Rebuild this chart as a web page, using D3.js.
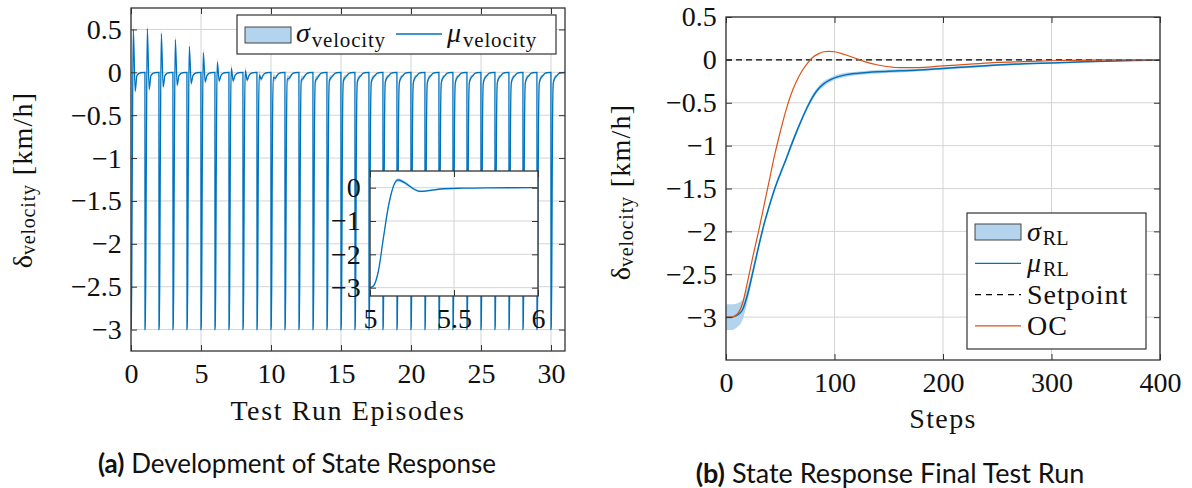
<!DOCTYPE html>
<html>
<head>
<meta charset="utf-8">
<script src="https://cdn.jsdelivr.net/npm/d3@7"></script>
<style>
  body { margin: 0; background: #fff; }
</style>
</head>
<body>
<svg id="fig" width="1192" height="488"></svg>
<script>
// (a) development over the test run episodes
const episodes = [0, 1, 2, 3, 4, 5, 6, 7, 8, 9, 10, 11, 12, 13, 14, 15,
                  16, 17, 18, 19, 20, 21, 22, 23, 24, 25, 26, 27, 28, 29, 30];
// overshoot peak and following dip for each episode
const episodePeak = [0.50, 0.51, 0.45, 0.38, 0.30, 0.23, 0.12, 0.05, 0.02, -0.03,
                     -0.06, -0.08, -0.09, -0.10, -0.10, -0.10, -0.11, -0.11, -0.11, -0.12,
                     -0.12, -0.12, -0.12, -0.12, -0.12, -0.12, -0.12, -0.12, -0.12, -0.12, -0.12];
const episodeDip  = [-0.22, -0.20, -0.17, -0.15, -0.13, -0.11, -0.10, -0.10, -0.09, -0.08,
                     -0.07, -0.07, -0.07, -0.07, -0.06, -0.06, -0.06, -0.06, -0.06, -0.06,
                     -0.06, -0.06, -0.06, -0.06, -0.06, -0.06, -0.06, -0.06, -0.06, -0.06, -0.06];
// shape inside one episode
const riseOffsets   = [0, 0.02, 0.05, 0.08, 0.11];
const riseValues    = [-3, -2.95, -2.5, -1.5, -0.55];
const riseStd       = [0, 0.01, 0.05, 0.07, 0.06];
const peakOffset = 0.165, peakStd = 0.05;
const dipOffset  = 0.30,  dipStd  = 0.03;
const settleOffsets = [0.42, 0.55, 0.7, 0.995];
const settleValues  = [-0.04, -0.015, -0.005, 0];
const settleStd     = [0.015, 0.008, 0.004, 0];

// (b) final test run
const steps = [0, 5, 10, 15, 20, 25, 30, 35, 40, 45, 50, 55, 60, 65, 70, 75, 80, 85, 90, 95,
               100, 110, 120, 130, 140, 150, 160, 175, 200, 225, 250, 275, 300, 325, 350, 375, 400];
const rlMean = [-3.00, -3.00, -2.98, -2.92, -2.73, -2.46, -2.18, -1.92, -1.70, -1.50, -1.33, -1.17, -1.00, -0.84, -0.69, -0.55, -0.43, -0.34, -0.28, -0.24,
                -0.21, -0.175, -0.158, -0.147, -0.139, -0.133, -0.128, -0.12, -0.10, -0.08, -0.06, -0.045, -0.035, -0.025, -0.015, -0.008, -0.005];
const rlStd  = [0.15, 0.15, 0.14, 0.12, 0.08, 0.05, 0.04, 0.03, 0.03, 0.03, 0.03, 0.03, 0.03, 0.03, 0.03, 0.03, 0.03, 0.03, 0.03, 0.025,
                0.025, 0.025, 0.02, 0.02, 0.02, 0.02, 0.02, 0.015, 0.015, 0.015, 0.012, 0.01, 0.008, 0.008, 0.006, 0.005, 0.005];
const ocValues = [-3.00, -3.00, -2.97, -2.85, -2.58, -2.28, -2.00, -1.70, -1.40, -1.10, -0.84, -0.60, -0.40, -0.25, -0.13, -0.04, 0.03, 0.07, 0.095, 0.10,
                  0.095, 0.06, 0.015, -0.03, -0.06, -0.08, -0.09, -0.09, -0.07, -0.05, -0.03, -0.02, -0.01, -0.005, 0, 0, 0];
const setpoint = 0;

const ticksAx = [0, 5, 10, 15, 20, 25, 30];
const ticksAy = [0.5, 0, -0.5, -1, -1.5, -2, -2.5, -3];
const ticksInsetX = [5, 5.5, 6];
const ticksInsetY = [0, -1, -2, -3];
const ticksBx = [0, 100, 200, 300, 400];
const ticksBy = [0.5, 0, -0.5, -1, -1.5, -2, -2.5, -3];

const BLUE = '#0072BD', ORANGE = '#D95319', BAND = '#b3d4ec', GRID = '#d4d4d4', AXIS = '#333';
const SERIF = 'Liberation Serif';
const SANS = 'Lato';
const fmt = d3.format('~g');

const svg = d3.select('#fig');

// serif text helper
function addText(parent, x, y, size) {
  return parent.append('text').attr('x', x).attr('y', y)
    .attr('font-family', SERIF).attr('font-size', size).attr('fill', '#111');
}

// build the episode series
const seriesA = [];
episodes.forEach((k, i) => {
  riseOffsets.forEach((o, j) => seriesA.push({ x: k + o, y: riseValues[j], s: riseStd[j] }));
  seriesA.push({ x: k + peakOffset, y: episodePeak[i], s: peakStd });
  seriesA.push({ x: k + dipOffset, y: episodeDip[i], s: dipStd });
  settleOffsets.forEach((o, j) => seriesA.push({ x: k + o, y: settleValues[j], s: settleStd[j] }));
});
const seriesB = steps.map((s, i) => ({ x: s, y: rlMean[i], s: rlStd[i], oc: ocValues[i], sp: setpoint }));

// grid lines under the data
function grid(g, x, y, xt, yt) {
  const [x0, x1] = x.range(), [y0, y1] = y.range();
  g.append('g').selectAll('line').data(xt).join('line')
    .attr('x1', d => x(d)).attr('x2', d => x(d)).attr('y1', y0).attr('y2', y1)
    .attr('stroke', GRID).attr('stroke-width', 1);
  g.append('g').selectAll('line').data(yt).join('line')
    .attr('x1', x0).attr('x2', x1).attr('y1', d => y(d)).attr('y2', d => y(d))
    .attr('stroke', GRID).attr('stroke-width', 1);
}

// ticks on all four sides + box
function frame(g, x, y, xt, yt, size) {
  const [x0, x1] = x.range(), [y0, y1] = y.range();
  const style = sel => {
    sel.select('.domain').remove();
    sel.selectAll('.tick line').attr('stroke', AXIS);
    sel.selectAll('.tick text').attr('fill', '#111')
      .attr('font-family', SERIF).attr('font-size', size);
  };
  g.append('g').attr('transform', `translate(0,${y0})`)
    .call(d3.axisBottom(x).tickValues(xt).tickSize(-6).tickPadding(size * 0.42).tickFormat(fmt)).call(style);
  g.append('g').attr('transform', `translate(0,${y1})`)
    .call(d3.axisTop(x).tickValues(xt).tickSize(-6).tickFormat('')).call(style);
  g.append('g').attr('transform', `translate(${x0},0)`)
    .call(d3.axisLeft(y).tickValues(yt).tickSize(-6).tickPadding(size * 0.33).tickFormat(fmt)).call(style);
  g.append('g').attr('transform', `translate(${x1},0)`)
    .call(d3.axisRight(y).tickValues(yt).tickSize(-6).tickFormat('')).call(style);
  g.append('rect').attr('x', x0).attr('y', y1).attr('width', x1 - x0).attr('height', y0 - y1)
    .attr('fill', 'none').attr('stroke', AXIS).attr('stroke-width', 1.3);
}

function clip(id, x, y) {
  const [x0, x1] = x.range(), [y0, y1] = y.range();
  svg.append('clipPath').attr('id', id).append('rect')
    .attr('x', x0).attr('y', y1).attr('width', x1 - x0).attr('height', y0 - y1);
  return `url(#${id})`;
}

function yLabel(cx, cy) {
  const t = addText(svg, 0, 0, 28).attr('transform', `translate(${cx},${cy}) rotate(-90)`)
    .attr('text-anchor', 'middle').attr('dominant-baseline', 'central');
  t.append('tspan').text('δ');
  t.append('tspan').attr('dy', 6).attr('font-size', 20).attr('letter-spacing', 0.8).text('velocity');
  t.append('tspan').attr('dy', -6).attr('dx', 9).attr('letter-spacing', 1.2).text('[km/h]');
}

// ---------- (a) ----------
const xA = d3.scaleLinear([0, 31], [131, 565]);
const yA = d3.scaleLinear([-3.25, 0.75], [351, 8]);
const gA = svg.append('g');
grid(gA, xA, yA, ticksAx, ticksAy);
const clipA = clip('clipA', xA, yA);

const bandA = d3.area().curve(d3.curveMonotoneX).x(d => xA(d.x)).y0(d => yA(d.y - d.s)).y1(d => yA(d.y + d.s));
const lineA = d3.line().curve(d3.curveMonotoneX).x(d => xA(d.x)).y(d => yA(d.y));
gA.append('path').datum(seriesA).attr('clip-path', clipA).attr('d', bandA).attr('fill', BAND);
gA.append('path').datum(seriesA).attr('clip-path', clipA).attr('d', lineA)
  .attr('fill', 'none').attr('stroke', BLUE).attr('stroke-width', 1.3);
frame(gA, xA, yA, ticksAx, ticksAy, 28);

// inset on episode 5
const xI = d3.scaleLinear([5, 6], [370, 538]);
const yI = d3.scaleLinear([-3.25, 0.5], [296, 171]);
const gI = svg.append('g');
gI.append('rect').attr('x', 370).attr('y', 171).attr('width', 168).attr('height', 125).attr('fill', '#fff');
grid(gI, xI, yI, ticksInsetX, ticksInsetY);
const insetData = seriesA.filter(d => d.x >= 5 && d.x < 6);
const clipI = clip('clipI', xI, yI);
gI.append('path').datum(insetData).attr('clip-path', clipI)
  .attr('d', d3.area().curve(d3.curveMonotoneX).x(d => xI(d.x)).y0(d => yI(d.y - d.s)).y1(d => yI(d.y + d.s)))
  .attr('fill', BAND);
gI.append('path').datum(insetData).attr('clip-path', clipI)
  .attr('d', d3.line().curve(d3.curveMonotoneX).x(d => xI(d.x)).y(d => yI(d.y)))
  .attr('fill', 'none').attr('stroke', BLUE).attr('stroke-width', 1.3);
frame(gI, xI, yI, ticksInsetX, ticksInsetY, 28);

// legend (a)
const legA = svg.append('g');
legA.append('rect').attr('x', 237).attr('y', 15).attr('width', 319).attr('height', 39)
  .attr('fill', '#fff').attr('stroke', AXIS).attr('stroke-width', 1.2);
legA.append('rect').attr('x', 245).attr('y', 27).attr('width', 46).attr('height', 16)
  .attr('fill', BAND).attr('stroke', '#444').attr('stroke-width', 1);
const tA1 = addText(legA, 296, 42, 28);
tA1.append('tspan').attr('font-style', 'italic').text('σ');
tA1.append('tspan').attr('dy', 5).attr('dx', 2).attr('font-size', 21).attr('letter-spacing', 0.8).text('velocity');
legA.append('line').attr('x1', 396).attr('x2', 442).attr('y1', 34).attr('y2', 34)
  .attr('stroke', BLUE).attr('stroke-width', 1.3);
const tA2 = addText(legA, 447, 42, 28);
tA2.append('tspan').attr('font-style', 'italic').text('μ');
tA2.append('tspan').attr('dy', 5).attr('dx', 2).attr('font-size', 21).attr('letter-spacing', 0.8).text('velocity');

addText(svg, 348, 420, 28).attr('text-anchor', 'middle').attr('letter-spacing', 1.6).text('Test Run Episodes');
yLabel(22, 180);

const capA = svg.append('text').attr('x', 297).attr('y', 473).attr('text-anchor', 'middle')
  .attr('font-family', SANS).attr('font-size', 26).attr('fill', '#111');
capA.append('tspan').attr('font-weight', 'bold').text('(a)');
capA.append('tspan').text(' Development of State Response');

// ---------- (b) ----------
const xB = d3.scaleLinear([0, 400], [726, 1160]);
const yB = d3.scaleLinear([-3.5, 0.5], [360, 17]);
const gB = svg.append('g');
grid(gB, xB, yB, ticksBx, ticksBy);
const clipB = clip('clipB', xB, yB);

gB.append('path').datum(seriesB).attr('clip-path', clipB)
  .attr('d', d3.area().curve(d3.curveMonotoneX).x(d => xB(d.x)).y0(d => yB(d.y - d.s)).y1(d => yB(d.y + d.s)))
  .attr('fill', BAND);
gB.append('path').datum(seriesB).attr('clip-path', clipB)
  .attr('d', d3.line().curve(d3.curveMonotoneX).x(d => xB(d.x)).y(d => yB(d.y)))
  .attr('fill', 'none').attr('stroke', BLUE).attr('stroke-width', 1.5);
gB.append('path').datum(seriesB).attr('clip-path', clipB)
  .attr('d', d3.line().x(d => xB(d.x)).y(d => yB(d.sp)))
  .attr('fill', 'none').attr('stroke', '#000').attr('stroke-width', 1.2).attr('stroke-dasharray', '6,4');
gB.append('path').datum(seriesB).attr('clip-path', clipB)
  .attr('d', d3.line().curve(d3.curveMonotoneX).x(d => xB(d.x)).y(d => yB(d.oc)))
  .attr('fill', 'none').attr('stroke', ORANGE).attr('stroke-width', 1.2);
frame(gB, xB, yB, ticksBx, ticksBy, 28);

// legend (b)
const legB = svg.append('g');
legB.append('rect').attr('x', 967).attr('y', 213).attr('width', 179).attr('height', 136)
  .attr('fill', '#fff').attr('stroke', AXIS).attr('stroke-width', 1.2);
const rowsB = [
  { key: 'σ', sub: 'RL', kind: 'band' },
  { key: 'μ', sub: 'RL', kind: 'line', color: BLUE },
  { key: 'Setpoint', kind: 'dash', color: '#000' },
  { key: 'OC', kind: 'line', color: ORANGE }
];
rowsB.forEach((r, i) => {
  const cy = 232 + i * 31.3;
  if (r.kind === 'band') {
    legB.append('rect').attr('x', 975).attr('y', cy - 8).attr('width', 46).attr('height', 16)
      .attr('fill', BAND).attr('stroke', '#444').attr('stroke-width', 1);
  } else {
    legB.append('line').attr('x1', 975).attr('x2', 1021).attr('y1', cy).attr('y2', cy)
      .attr('stroke', r.color).attr('stroke-width', 1.3)
      .attr('stroke-dasharray', r.kind === 'dash' ? '6,5' : null);
  }
  const t = addText(legB, 1027, cy + 9, 28);
  if (r.sub) {
    t.append('tspan').attr('font-style', 'italic').text(r.key);
    t.append('tspan').attr('dy', 4).attr('dx', 2).attr('font-size', 20).text(r.sub);
  } else {
    t.attr('letter-spacing', 1).text(r.key);
  }
});

addText(svg, 943, 428, 28).attr('text-anchor', 'middle').attr('letter-spacing', 1.4).text('Steps');
yLabel(620, 192);

const capB = svg.append('text').attr('x', 890).attr('y', 483).attr('text-anchor', 'middle')
  .attr('font-family', SANS).attr('font-size', 27).attr('fill', '#111');
capB.append('tspan').attr('font-weight', 'bold').text('(b)');
capB.append('tspan').text(' State Response Final Test Run');
</script>
</body>
</html>
